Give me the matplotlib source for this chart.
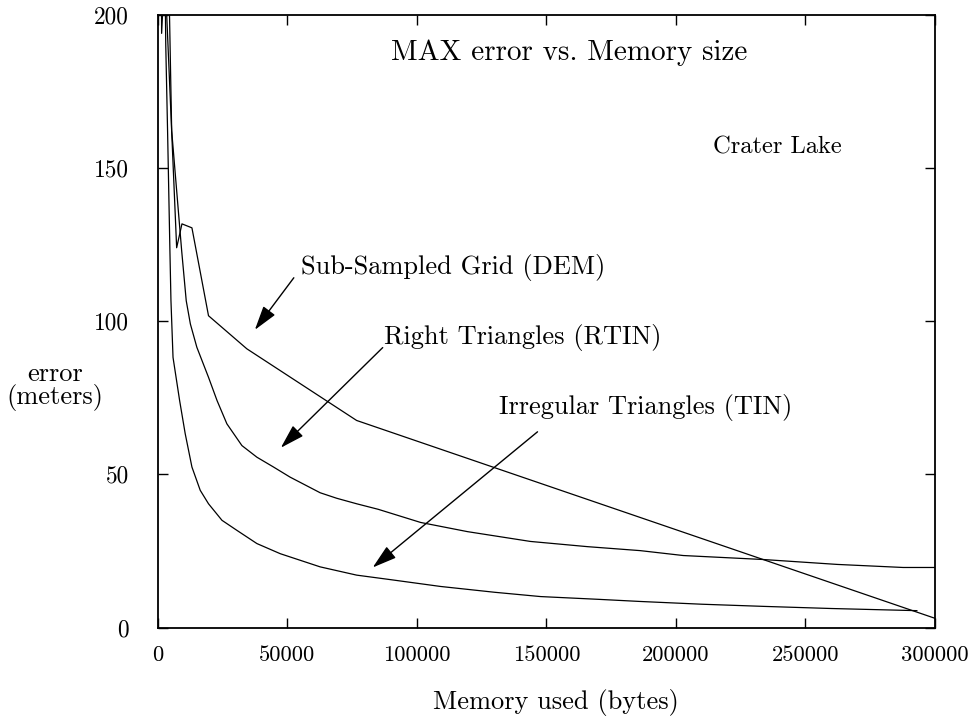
import matplotlib
matplotlib.use("Agg")
import matplotlib.pyplot as plt

plt.rcParams['font.family'] = ['cmr10', 'DejaVu Serif']
plt.rcParams['axes.unicode_minus'] = False
plt.rcParams['mathtext.fontset'] = 'cm'

# ---- data ----
tin_x = [2500, 3000, 3700, 4600, 5000, 5800, 8350, 10500, 13100, 16300, 19500, 24700,
         30500, 38200, 47200, 62600, 76700, 90000, 109100, 130000, 147700, 170000,
         186200, 210000, 233700, 260000, 293000]
tin_y = [230, 190, 162, 123, 106.8, 88.2, 74.1, 63.3, 52.4, 44.8, 40.4, 35,
         31.7, 27.4, 24.1, 19.8, 17.1, 15.6, 13.4, 11.5, 10.1, 9.2,
         8.5, 7.6, 6.9, 6.2, 5.5]

rtin_x = [4000, 5280, 9140, 10900, 12500, 15000, 19500, 22800, 26600, 32400, 38200,
          44600, 51000, 55100, 62600, 69000, 76700, 85000, 101400, 119500, 143800,
          165800, 186200, 202800, 233700, 262200, 287700, 300000]
rtin_y = [220, 162.2, 123, 106.7, 99.1, 91.5, 81.7, 74.1, 66.5, 59.4, 55.6,
          52.4, 49.1, 47.3, 44.0, 42.2, 40.4, 38.6, 34.3, 31.3, 28.1,
          26.4, 25.1, 23.5, 22.2, 20.6, 19.6, 19.6]

dem_x = [1000, 1400, 2600, 7200, 9250, 13100, 19500, 34300, 76700, 300000]
dem_y = [260, 194, 215, 124, 131.8, 130.5, 101.8, 91.0, 67.6, 3.0]

x_ticks = [0, 50000, 100000, 150000, 200000, 250000, 300000]
y_ticks = [0, 50, 100, 150, 200]

fig = plt.figure(figsize=(9.7, 7.19), dpi=100)
L, R, T, B = 158, 935, 15, 627.5
ax = fig.add_axes([L/970, 1-B/719, (R-L)/970, (B-T)/719])

for xs, ys in [(tin_x, tin_y), (rtin_x, rtin_y), (dem_x, dem_y)]:
    ax.plot(xs, ys, color='black', lw=0.9)

ax.set_xlim(0, 300000)
ax.set_ylim(0, 200)
ax.set_xticks(x_ticks)
ax.set_xticklabels([str(v) for v in x_ticks])
ax.set_yticks(y_ticks)
ax.set_yticklabels([str(v) for v in y_ticks])
ax.tick_params(direction='in', length=7, width=1, top=True, right=True)
ax.tick_params(axis='x', pad=13, labelsize=16.2)
ax.tick_params(axis='y', pad=21, labelsize=16.8)
for s in ax.spines.values():
    s.set_linewidth(1.3)

ax.set_xlabel('Memory used (bytes)', fontsize=19)
ax.xaxis.set_label_coords((556-L)/(R-L), -(703-B)/(B-T))
ax.xaxis.label.set_va('center')
ax.set_ylabel('error\n(meters)', fontsize=19, rotation=0, ha='center', va='center',
              linespacing=0.9)
ax.yaxis.set_label_coords((55-L)/(R-L), (B-387)/(B-T))

ax.text(89850, 187.6, 'MAX error vs. Memory size', fontsize=21, ha='left', va='center')
ax.text(214400, 156.6, 'Crater Lake', fontsize=17.7, ha='left', va='center')

ap = dict(arrowstyle='-|>,head_length=1.0,head_width=0.3', color='black', lw=1,
          shrinkA=0, shrinkB=0, mutation_scale=15)
ax.annotate('', xy=(37400, 97.2), xytext=(52440, 114.2), arrowprops=ap)
ax.annotate('', xy=(47430, 58.7), xytext=(86760, 91.4), arrowprops=ap)
ax.annotate('', xy=(82900, 19.6), xytext=(146530, 63.9), arrowprops=ap)

ax.text(55140, 117.5, 'Sub-Sampled Grid (DEM)', fontsize=19, ha='left', va='center')
ax.text(87150, 94.6, 'Right Triangles (RTIN)', fontsize=19, ha='left', va='center')
ax.text(131500, 71.8, 'Irregular Triangles (TIN)', fontsize=19, ha='left', va='center')

fig.savefig('out.png', dpi=100)
